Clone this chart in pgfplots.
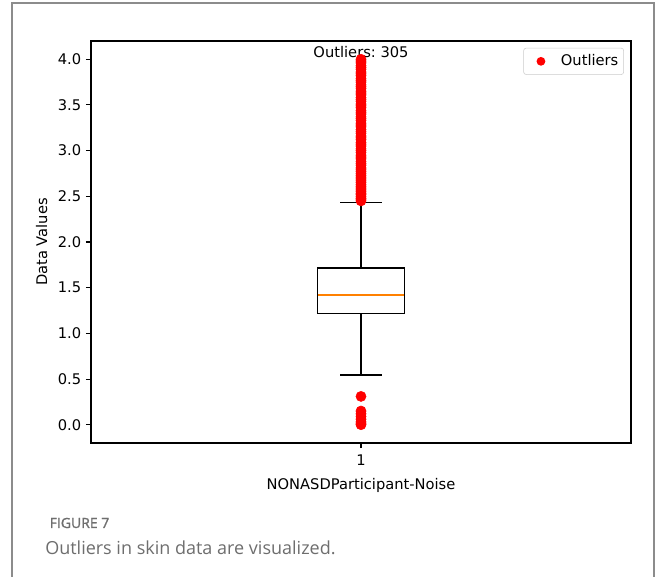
\documentclass[border=0pt]{standalone}
\usepackage{pgfplots}
\pgfplotsset{compat=1.18}
\usepackage{fontspec}
\setmainfont{DejaVu Sans}
\newfontfamily\capfont{Open Sans}
\newfontfamily\capbold[FakeBold=1.2]{Open Sans}
\definecolor{framegray}{RGB}{140,140,140}
\definecolor{capgray}{RGB}{110,110,110}
\begin{document}
\frenchspacing
\begin{tikzpicture}
\useasboundingbox (0,0) rectangle (492pt,432.75pt);
\fill[white] (0,0) rectangle (492pt,432.75pt);
\draw[framegray, line width=1.1pt] (9pt,-2pt) -- (9pt,430.5pt) -- (490.5pt,430.5pt) -- (490.5pt,-2pt);
\begin{axis}[
  at={(68.25pt,100.5pt)}, anchor=south west,
  scale only axis, width=405pt, height=301.5pt,
  xmin=0.5, xmax=1.5, ymin=-0.2, ymax=4.2,
  xtick={1}, xticklabels={1},
  ytick={0,0.5,1,1.5,2,2.5,3,3.5,4},
  yticklabel style={/pgf/number format/.cd, fixed, fixed zerofill, precision=1},
  /pgf/number format/assume math mode=true,
  tick align=outside, tick pos=left, major tick length=3.9pt,
  every tick/.style={black, line width=0.8pt},
  axis line style={line width=0.8pt},
  tick label style={font=\fontsize{11}{13}\selectfont},
  xticklabel style={yshift=-1.5pt},
  label style={font=\fontsize{11}{13}\selectfont},
  xlabel={NONASDParticipant-Noise},
  xlabel style={yshift=-3pt},
  ylabel={Data Values},
  ylabel style={yshift=1pt},
  legend style={at={(0.987,0.983)}, anchor=north east, draw=black!20, rounded corners=2pt,
    font=\fontsize{11}{13}\selectfont, inner xsep=2pt, inner ysep=3pt},
  legend cell align=left,
  clip=false,
]
\addplot[black, line width=0.9pt, mark=none, forget plot] coordinates {(0.92,1.215)(1.08,1.215)(1.08,1.715)(0.92,1.715)(0.92,1.215)};
\addplot[black, line width=0.9pt, mark=none, forget plot] coordinates {(1,1.715)(1,2.43)};
\addplot[black, line width=0.9pt, mark=none, forget plot] coordinates {(0.962,2.43)(1.038,2.43)};
\addplot[black, line width=0.9pt, mark=none, forget plot] coordinates {(1,1.215)(1,0.545)};
\addplot[black, line width=0.9pt, mark=none, forget plot] coordinates {(0.962,0.545)(1.038,0.545)};
\addplot[draw=orange, color=orange, line width=1.5pt, mark=none, forget plot] coordinates {(0.921,1.415)(1.079,1.415)};
\addplot[only marks, mark=*, mark size=3.8pt, color=red,
  legend image code/.code={\path[draw=none] (0pt,0pt) -- (24pt,0pt); \fill[red,draw=none] (11pt,0pt) circle (3.3pt);}] coordinates {
(1,2.45)(1,2.47)(1,2.48)(1,2.50)(1,2.52)(1,2.53)(1,2.55)(1,2.57)(1,2.59)(1,2.61)
(1,2.63)(1,2.65)(1,2.67)(1,2.69)(1,2.71)(1,2.73)(1,2.75)(1,2.77)(1,2.79)(1,2.81)
(1,2.84)(1,2.86)(1,2.88)(1,2.91)(1,2.93)(1,2.95)(1,2.98)(1,3.00)(1,3.02)(1,3.05)
(1,3.07)(1,3.09)(1,3.12)(1,3.14)(1,3.16)(1,3.19)(1,3.21)(1,3.23)(1,3.26)(1,3.28)
(1,3.30)(1,3.33)(1,3.35)(1,3.37)(1,3.40)(1,3.42)(1,3.44)(1,3.47)(1,3.49)(1,3.51)
(1,3.54)(1,3.56)(1,3.58)(1,3.61)(1,3.63)(1,3.65)(1,3.68)(1,3.70)(1,3.72)(1,3.75)
(1,3.77)(1,3.79)(1,3.82)(1,3.84)(1,3.86)(1,3.89)(1,3.91)(1,3.93)(1,3.96)(1,3.98)(1,4.00)
(1,0.31)(1,0.15)(1,0.12)(1,0.09)(1,0.06)(1,0.03)(1,0.01)(1,0.00)
};
\addlegendentry{Outliers}
\node[anchor=base, font=\fontsize{11}{13}\selectfont] at (rel axis cs:0.5,0.96) {Outliers: 305};
\end{axis}
\node[anchor=base west, text=capgray, font=\capbold\fontsize{10.5}{12}\selectfont] at (33.75pt,36.75pt) {FIGURE 7};
\node[anchor=base west, text=capgray, font=\capfont\fontsize{13.5}{16}\selectfont, inner sep=0pt] at (33.75pt,16.5pt) {Outliers in skin data are visualized.};
\end{tikzpicture}
\end{document}
